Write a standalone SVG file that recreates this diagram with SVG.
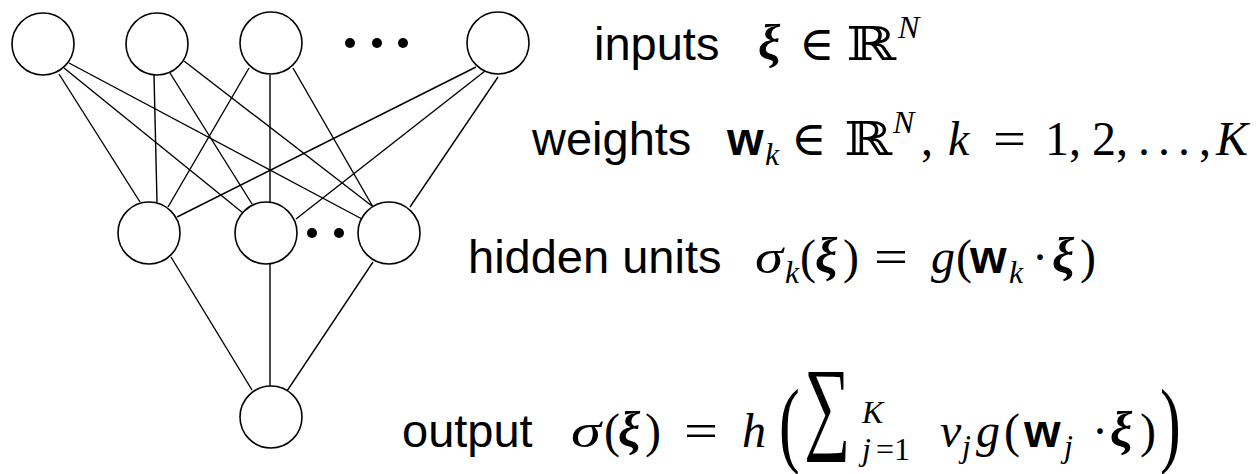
<svg xmlns="http://www.w3.org/2000/svg" width="1260" height="474" viewBox="0 0 1260 474">
<style>
.node{fill:#fff;stroke:#000;stroke-width:1.6}
.dot{fill:#000}
.edge{stroke:#000;stroke-width:1.4;fill:none}
.lab{font-family:"Liberation Sans",Arial,sans-serif;font-size:47px;fill:#000}
.m{font-family:"Liberation Serif","DejaVu Serif",serif;font-size:48px;fill:#000}
.i{font-style:italic}
.bx{font-family:"Liberation Serif","DejaVu Serif",serif;font-weight:bold;font-style:italic;font-size:50px}
.bw{font-family:"Liberation Sans",Arial,sans-serif;font-weight:bold;font-size:47px}
.sub{font-family:"Liberation Serif","DejaVu Serif",serif;font-style:italic;font-size:32px}
.subu{font-family:"Liberation Serif","DejaVu Serif",serif;font-size:32px}
.bb{font-family:"DejaVu Serif",serif;font-size:47px}
.big{font-family:"Liberation Serif","DejaVu Serif",serif;font-size:96px}
.sum{font-family:"Liberation Serif","DejaVu Serif",serif;font-size:80px}
</style>
<rect width="1260" height="474" fill="#fff"/>
<g id="connectors">
<line class="edge" x1="59" y1="74" x2="140" y2="202"/>
<line class="edge" x1="64" y1="68" x2="243" y2="213"/>
<line class="edge" x1="69" y1="63" x2="362" y2="219"/>
<line class="edge" x1="154" y1="75" x2="157" y2="202"/>
<line class="edge" x1="170" y1="73" x2="252" y2="204"/>
<line class="edge" x1="184" y1="61" x2="372" y2="206"/>
<line class="edge" x1="249" y1="68" x2="168" y2="207"/>
<line class="edge" x1="270" y1="75" x2="270" y2="202"/>
<line class="edge" x1="293" y1="68" x2="373" y2="207"/>
<line class="edge" x1="476" y1="67" x2="177" y2="217"/>
<line class="edge" x1="485" y1="71" x2="296" y2="219"/>
<line class="edge" x1="498" y1="77" x2="410" y2="207"/>
<line class="edge" x1="171" y1="257" x2="252" y2="390"/>
<line class="edge" x1="270" y1="264" x2="270" y2="386"/>
<line class="edge" x1="373" y1="262" x2="287" y2="391"/>
</g>
<g id="in1"><circle class="node" cx="43" cy="44" r="31"/></g>
<g id="in2"><circle class="node" cx="157" cy="44" r="31"/></g>
<g id="in3"><circle class="node" cx="271" cy="43" r="31"/></g>
<g id="in-dots"><circle class="dot" cx="350" cy="43" r="5"/><circle class="dot" cx="377" cy="43" r="5"/><circle class="dot" cx="403" cy="43" r="5"/></g>
<g id="inN"><circle class="node" cx="498" cy="43" r="31"/></g>
<g id="h1"><circle class="node" cx="149" cy="233" r="31"/></g>
<g id="h2"><circle class="node" cx="266" cy="233" r="31"/></g>
<g id="h-dots"><circle class="dot" cx="312" cy="233" r="5"/><circle class="dot" cx="339" cy="233" r="5"/></g>
<g id="hK"><circle class="node" cx="389" cy="233" r="31"/></g>
<g id="out"><circle class="node" cx="271" cy="417" r="31"/></g>

<g id="label-inputs">
<text class="lab" x="594" y="60">inputs</text>
<text class="bx" x="758" y="60">ξ</text>
<text class="m" x="799" y="60">∈</text>
<text class="bb" x="846" y="60" textLength="50" lengthAdjust="spacingAndGlyphs">ℝ</text>
<text class="sub" x="898" y="38">N</text>
</g>
<g id="label-weights">
<text class="lab" x="532" y="155">weights</text>
<text class="bw" x="727" y="155">w</text>
<text class="sub" x="765" y="165">k</text>
<text class="m" x="791" y="155">∈</text>
<text class="bb" x="844" y="155" textLength="48" lengthAdjust="spacingAndGlyphs">ℝ</text>
<text class="sub" x="893" y="133">N</text>
<text class="m" x="921" y="155">,</text>
<text class="m i" x="948" y="155">k</text>
<text class="m" x="993" y="155" textLength="33" lengthAdjust="spacingAndGlyphs">=</text>
<text class="m" x="1045" y="155">1,</text>
<text class="m" x="1092" y="155">2,</text>
<text class="m" x="1138" y="155">.</text>
<text class="m" x="1158" y="155">.</text>
<text class="m" x="1178" y="155">.</text>
<text class="m" x="1199" y="155">,</text>
<text class="m i" x="1216" y="155">K</text>
</g>
<g id="label-hidden">
<text class="lab" x="468" y="273">hidden units</text>
<text class="m i" x="755" y="273" textLength="28" lengthAdjust="spacingAndGlyphs">σ</text>
<text class="sub" x="785" y="283">k</text>
<text class="m" x="800" y="273">(</text>
<text class="bx" x="815" y="273">ξ</text>
<text class="m" x="843" y="273">)</text>
<text class="m" x="874" y="273" textLength="34" lengthAdjust="spacingAndGlyphs">=</text>
<text class="m i" x="931" y="273">g</text>
<text class="m" x="956" y="273">(</text>
<text class="bw" x="970" y="273">w</text>
<text class="sub" x="1009" y="283">k</text>
<text class="m" x="1032" y="273">·</text>
<text class="bx" x="1052" y="273">ξ</text>
<text class="m" x="1080" y="273">)</text>
</g>
<g id="label-output">
<text class="lab" x="402" y="447">output</text>
<text class="m i" x="571" y="447" textLength="30" lengthAdjust="spacingAndGlyphs">σ</text>
<text class="m" x="604" y="447">(</text>
<text class="bx" x="618" y="447">ξ</text>
<text class="m" x="645" y="447">)</text>
<text class="m" x="684" y="447" textLength="34" lengthAdjust="spacingAndGlyphs">=</text>
<text class="m i" x="742" y="447">h</text>
<text class="big" transform="translate(779,455) scale(0.65,1)">(</text>
<text class="sum" transform="translate(804,440) scale(1.05,1.3)" textLength="44" lengthAdjust="spacingAndGlyphs">∑</text>
<text class="sub" x="862" y="423">K</text>
<text class="sub" x="862" y="460">j</text>
<text class="subu" x="876" y="460">=1</text>
<text class="m i" x="940" y="447">v</text>
<text class="sub" x="962" y="457">j</text>
<text class="m i" x="976" y="447">g</text>
<text class="m" x="1004" y="447">(</text>
<text class="bw" x="1024" y="447">w</text>
<text class="sub" x="1064" y="457">j</text>
<text class="m" x="1092" y="447">·</text>
<text class="bx" x="1110" y="447">ξ</text>
<text class="m" x="1140" y="447">)</text>
<text class="big" transform="translate(1160,455) scale(0.65,1)">)</text>
</g>
</svg>
